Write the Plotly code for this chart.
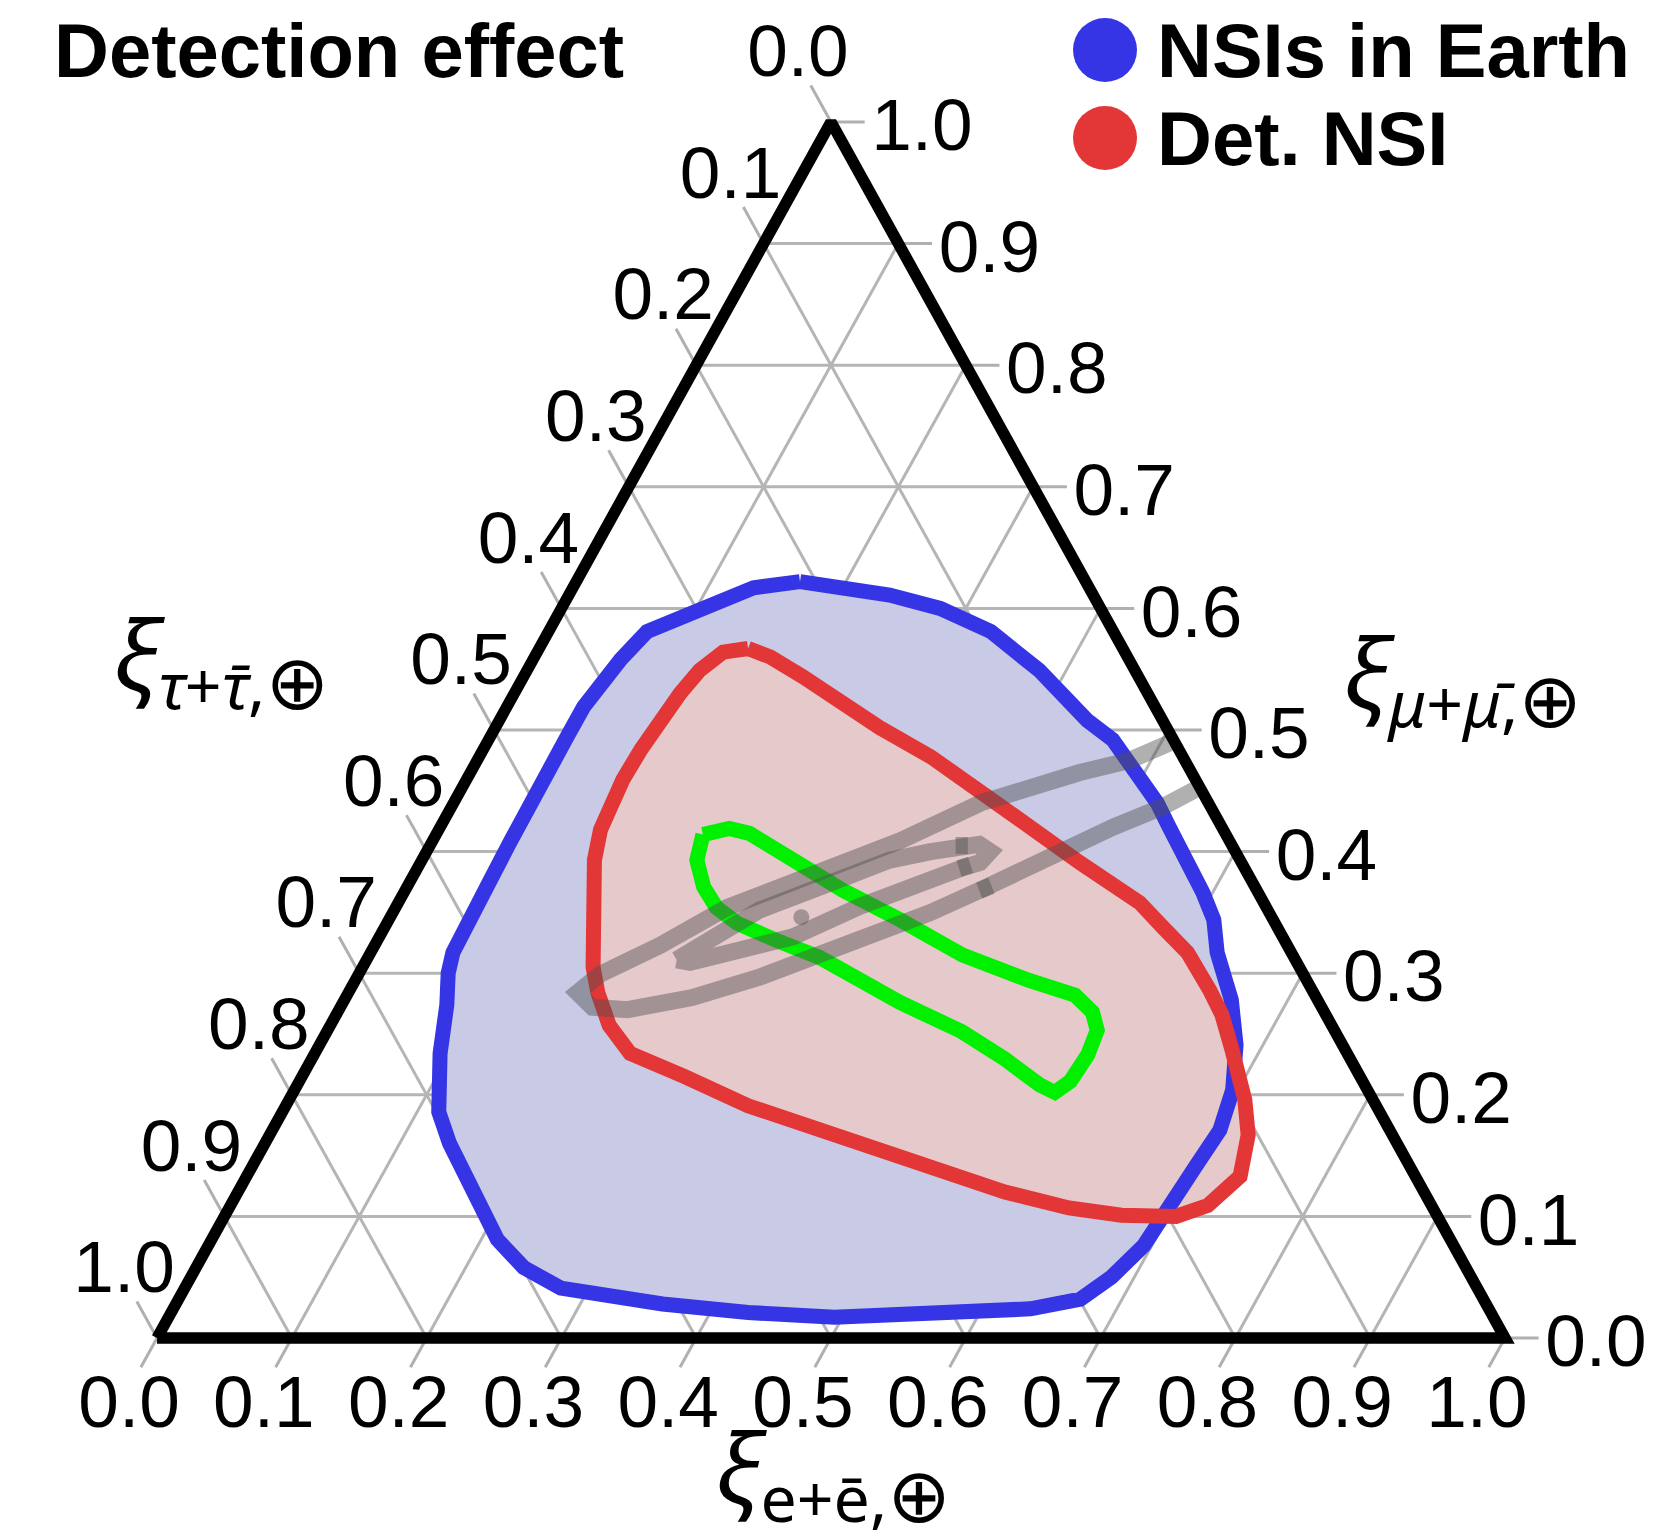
import plotly.graph_objects as go

W, H = 1676, 1536

# shared tick values for the three composition axes
TICK_VALUES = [0.0, 0.1, 0.2, 0.3, 0.4, 0.5, 0.6, 0.7, 0.8, 0.9, 1.0]
TICK_TEXT = ["0.0", "0.1", "0.2", "0.3", "0.4", "0.5", "0.6", "0.7", "0.8", "0.9", "1.0"]

# flavour-ratio regions, given as (xi_e, xi_mu); xi_tau = 1 - xi_e - xi_mu
earth_e = [0.166, 0.192, 0.238, 0.281, 0.328, 0.380, 0.436, 0.463, 0.493, 0.522,
           0.541, 0.568, 0.593, 0.612, 0.628, 0.658, 0.680, 0.696, 0.703, 0.700,
           0.697, 0.694, 0.683, 0.669, 0.636, 0.563, 0.494, 0.428, 0.361, 0.279,
           0.243, 0.212, 0.170, 0.137, 0.116, 0.093, 0.078, 0.066, 0.061, 0.059,
           0.059, 0.058, 0.057, 0.057, 0.057, 0.057, 0.059, 0.065, 0.073, 0.092,
           0.111, 0.134]
earth_mu = [0.622, 0.619, 0.611, 0.600, 0.581, 0.549, 0.508, 0.492, 0.467, 0.440,
            0.420, 0.393, 0.366, 0.344, 0.317, 0.278, 0.241, 0.204, 0.171, 0.142,
            0.109, 0.076, 0.050, 0.032, 0.024, 0.021, 0.017, 0.021, 0.028, 0.041,
            0.058, 0.081, 0.125, 0.160, 0.186, 0.234, 0.274, 0.300, 0.317, 0.346,
            0.377, 0.407, 0.434, 0.465, 0.494, 0.519, 0.535, 0.558, 0.581, 0.592,
            0.603, 0.617]

det_e = [0.155, 0.175, 0.207, 0.242, 0.285, 0.335, 0.385, 0.438, 0.489, 0.522,
         0.550, 0.577, 0.606, 0.638, 0.657, 0.679, 0.709, 0.726, 0.737, 0.725,
         0.706, 0.665, 0.623, 0.569, 0.503, 0.419, 0.343, 0.284, 0.234, 0.207,
         0.185, 0.171, 0.148, 0.128, 0.120, 0.118, 0.116, 0.117, 0.119, 0.123,
         0.128, 0.138]
det_mu = [0.567, 0.560, 0.544, 0.525, 0.502, 0.478, 0.451, 0.420, 0.391, 0.374,
          0.358, 0.338, 0.317, 0.286, 0.266, 0.237, 0.196, 0.167, 0.133, 0.109,
          0.100, 0.101, 0.107, 0.120, 0.141, 0.167, 0.191, 0.215, 0.234, 0.257,
          0.284, 0.305, 0.350, 0.393, 0.418, 0.437, 0.459, 0.484, 0.508, 0.530,
          0.549, 0.564]

green_e = [0.198, 0.215, 0.232, 0.275, 0.325, 0.379, 0.440, 0.500, 0.540, 0.560,
           0.571, 0.574, 0.572, 0.565, 0.551, 0.515, 0.471, 0.413, 0.374, 0.335,
           0.296, 0.260, 0.238, 0.220, 0.204]
green_mu = [0.414, 0.419, 0.415, 0.393, 0.368, 0.344, 0.315, 0.294, 0.282, 0.268,
            0.253, 0.233, 0.211, 0.202, 0.208, 0.229, 0.252, 0.276, 0.294, 0.313,
            0.327, 0.341, 0.354, 0.371, 0.393]

# source-composition band: open outer contour and closed inner contour
band_outer_e = [0.509, 0.484, 0.452, 0.391, 0.347, 0.323, 0.283, 0.246, 0.212, 0.179,
                0.170, 0.187, 0.214, 0.257, 0.299, 0.339, 0.370, 0.399, 0.429, 0.462,
                0.499, 0.528, 0.547]
band_outer_mu = [0.491, 0.475, 0.465, 0.440, 0.409, 0.397, 0.377, 0.354, 0.323, 0.299,
                 0.284, 0.272, 0.270, 0.280, 0.297, 0.317, 0.333, 0.350, 0.370, 0.396,
                 0.420, 0.437, 0.453]
band_inner_e = [0.230, 0.247, 0.271, 0.310, 0.347, 0.374, 0.395, 0.407, 0.418, 0.415,
                0.405, 0.385, 0.356, 0.344, 0.307, 0.265, 0.241]
band_inner_mu = [0.311, 0.326, 0.352, 0.373, 0.393, 0.400, 0.405, 0.406, 0.400, 0.391,
                 0.387, 0.377, 0.360, 0.355, 0.330, 0.317, 0.309]
# short stretches where the band contours are traced twice
band_overlap_e = [[0.390, 0.399], [0.402, 0.409], [0.426, 0.433]]
band_overlap_mu = [[0.405, 0.405], [0.386, 0.389], [0.368, 0.372]]
best_e = [0.305]
best_mu = [0.346]

X_RANGE = [-0.1165, 1.1269]
Y_RANGE = [-0.1628, 1.1003]
PX = W / (X_RANGE[1] - X_RANGE[0])  # pixels per unit, horizontal
PY = H / (Y_RANGE[1] - Y_RANGE[0])  # pixels per unit, vertical


def cart(e, mu):
    """Ternary point -> plane: xi_e = 1 lower right, xi_mu = 1 top, xi_tau = 1 lower left."""
    return [a + b / 2 for a, b in zip(e, mu)], list(mu)


def closed(seq):
    return list(seq) + [seq[0]]


fig = go.Figure()

# grid lines of constant xi_mu, xi_e and xi_tau
gx, gy = [], []
for v in TICK_VALUES[1:-1]:
    for e_pair, m_pair in (((0, 1 - v), (v, v)), ((v, v), (0, 1 - v)), ((1 - v, 0), (0, 1 - v))):
        xs, ys = cart(e_pair, m_pair)
        gx += xs + [None]
        gy += ys + [None]
fig.add_trace(go.Scatter(x=gx, y=gy, mode="lines", line=dict(color="#b5b5b5", width=3),
                         hoverinfo="skip"))

# outward tick marks, each continuing its grid line past the edge
LEN_B, LEN_R, LEN_L = 0.024, 0.025, 0.030
tx, ty = [], []
for v in TICK_VALUES:
    for e_pair, m_pair in (((v, v), (0, -LEN_B)),
                           ((1 - v, 1 - v + LEN_R), (v, v)),
                           ((0, -LEN_L), (1 - v, 1 - v + LEN_L))):
        xs, ys = cart(e_pair, m_pair)
        tx += xs + [None]
        ty += ys + [None]
fig.add_trace(go.Scatter(x=tx, y=ty, mode="lines", line=dict(color="#b0b0b0", width=3),
                         hoverinfo="skip"))

BLUE, RED, GREEN = "#3535e6", "#e33636", "#00f000"
BAND = "rgba(80,80,80,0.45)"
LW = 15
BAND_W = 17

ex, ey = cart(closed(earth_e), closed(earth_mu))
dx, dy = cart(closed(det_e), closed(det_mu))
fig.add_trace(go.Scatter(x=ex, y=ey, mode="lines", fill="toself", fillcolor="#c9cbe6",
                         line=dict(width=0), name="NSIs in Earth"))
fig.add_trace(go.Scatter(x=dx, y=dy, mode="lines", fill="toself", fillcolor="#e6c9cb",
                         line=dict(width=0), name="Det. NSI"))
fig.add_trace(go.Scatter(x=ex, y=ey, mode="lines", line=dict(color=BLUE, width=LW)))
fig.add_trace(go.Scatter(x=dx, y=dy, mode="lines", line=dict(color=RED, width=LW)))

gxs, gys = cart(closed(green_e), closed(green_mu))
fig.add_trace(go.Scatter(x=gxs, y=gys, mode="lines", line=dict(color=GREEN, width=LW)))

bx, by = cart(band_outer_e, band_outer_mu)
fig.add_trace(go.Scatter(x=bx, y=by, mode="lines", line=dict(color=BAND, width=BAND_W)))
ix, iy = cart(closed(band_inner_e), closed(band_inner_mu))
fig.add_trace(go.Scatter(x=ix, y=iy, mode="lines", line=dict(color=BAND, width=BAND_W)))
for oe, om in zip(band_overlap_e, band_overlap_mu):
    ox, oy = cart(oe, om)
    fig.add_trace(go.Scatter(x=ox, y=oy, mode="lines", line=dict(color=BAND, width=BAND_W)))
px_, py_ = cart(best_e, best_mu)
fig.add_trace(go.Scatter(x=px_, y=py_, mode="markers",
                         marker=dict(color=BAND, size=16, line=dict(width=0))))

# triangle frame
fx, fy = cart([0, 1, 0, 0], [0, 0, 1, 0])
fig.add_trace(go.Scatter(x=fx, y=fy, mode="lines", line=dict(color="black", width=11.5)))

# tick labels
label_font = dict(family="Liberation Sans, Arial, sans-serif", size=73, color="black")
bot_x = [v - 28 / PX for v in TICK_VALUES]
bot_y = [-71 / PY for v in TICK_VALUES]
right_x = [1 - v / 2 + 91 / PX for v in TICK_VALUES]
right_y = [v - 10 / PY for v in TICK_VALUES]
left_x = [(1 - v) / 2 - 33 / PX for v in TICK_VALUES]
left_y = [1 - v + 64 / PY for v in TICK_VALUES]
for xs, ys in ((bot_x, bot_y), (right_x, right_y), (left_x, left_y)):
    fig.add_trace(go.Scatter(x=xs, y=ys, mode="text", text=TICK_TEXT,
                             textposition="middle center", textfont=label_font,
                             cliponaxis=False, hoverinfo="skip"))

bold = dict(family="Liberation Sans, Arial, sans-serif", size=76, color="black")
title_font = dict(family="Noto Sans, DejaVu Sans, sans-serif", size=92, color="black")
XI = "<span style='font-size:96px'><i>ξ</i></span>"
OPLUS = "<span style='font-size:76px'>⊕</span>"

annotations = [
    dict(text="<b>Detection effect</b>", x=52 / W, y=1 - 50 / H, font=bold,
         xanchor="left", yanchor="middle"),
    dict(text="<b>NSIs in Earth</b>", x=1155 / W, y=1 - 50 / H, font=bold,
         xanchor="left", yanchor="middle"),
    dict(text="<b>Det. NSI</b>", x=1155 / W, y=1 - 138 / H, font=bold,
         xanchor="left", yanchor="middle"),
    dict(text=XI + "<sub><i>τ</i>+<i>τ\u0304</i>," + OPLUS + "</sub>", x=112 / W, y=1 - 659 / H,
         font=title_font, xanchor="left", yanchor="middle"),
    dict(text=XI + "<sub><i>μ</i>+<i>μ\u0304</i>," + OPLUS + "</sub>", x=1342 / W, y=1 - 677 / H,
         font=title_font, xanchor="left", yanchor="middle"),
    dict(text=XI + "<sub>e+ē," + OPLUS + "</sub>", x=714 / W, y=1 - 1472 / H,
         font=title_font, xanchor="left", yanchor="middle"),
]
for a in annotations:
    a.update(xref="paper", yref="paper", showarrow=False)

shapes = [
    dict(type="circle", xref="paper", yref="paper", x0=(1105 - 32) / W, x1=(1105 + 32) / W,
         y0=1 - (50 + 32) / H, y1=1 - (50 - 32) / H, fillcolor=BLUE, line=dict(width=0)),
    dict(type="circle", xref="paper", yref="paper", x0=(1105 - 32) / W, x1=(1105 + 32) / W,
         y0=1 - (138 + 32) / H, y1=1 - (138 - 32) / H, fillcolor=RED, line=dict(width=0)),
]

fig.update_layout(
    width=W, height=H, margin=dict(l=0, r=0, t=0, b=0),
    paper_bgcolor="white", plot_bgcolor="white", showlegend=False,
    xaxis=dict(range=X_RANGE, visible=False, fixedrange=True),
    yaxis=dict(range=Y_RANGE, visible=False, fixedrange=True),
    annotations=annotations, shapes=shapes,
)

fig.write_html("out.html")
